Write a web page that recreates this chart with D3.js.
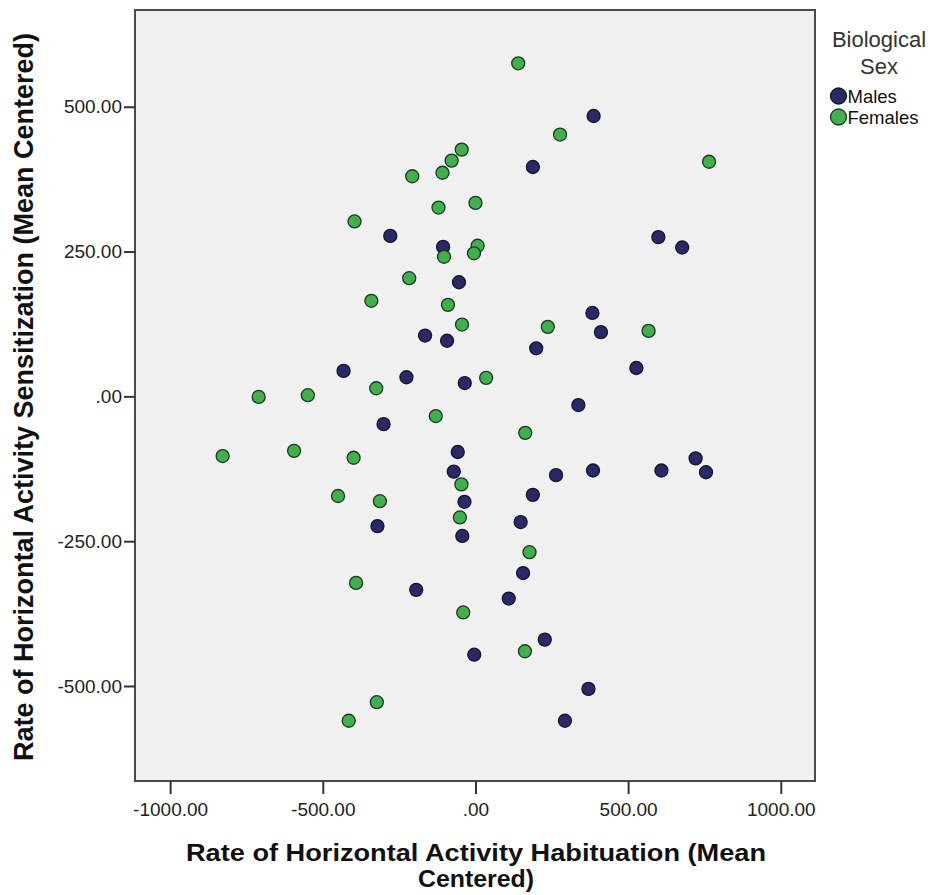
<!DOCTYPE html>
<html>
<head>
<meta charset="utf-8">
<script src="https://cdn.jsdelivr.net/npm/d3@7"></script>
<style>
  body { margin: 0; background: #fff; }
  text { font-family: Arial, "Liberation Sans", sans-serif; }
</style>
</head>
<body>
<div id="myscatterplot"></div>
<script>
// data
var groups = ["Males", "Females"];
var maleX = [387, 188, -279, -106, 599, 677, -54, -165, -93, 383, 411, 199, 527, -432, -226, -35, 337, -301,
    -58, -71, -36, 721, 755, 264, 385, 609, 188, 148, 156, 109, 227, 370, 293, -321, -43, -194, -4];
var maleY = [484, 396, 277, 258, 275, 257, 197, 105, 96, 144, 111, 83, 49, 44, 33, 23, -15, -48,
    -96, -130, -182, -107, -131, -136, -128, -128, -170, -217, -305, -349, -420, -505, -560, -224, -241, -334, -446];
var femaleX = [140, 277, 765, -45, -78, -108, -207, -121, 0, -396, -103, 7, -5, -217, -341, -90, -44, 237, 567,
    35, -325, -710, -549, -130, 163, -828, -594, -399, -46, -450, -313, -51, 177, -391, -40, 162, -323, -415];
var femaleY = [575, 452, 405, 426, 407, 386, 380, 326, 334, 302, 241, 260, 247, 204, 165, 158, 124, 120, 113,
    32, 14, -1, 2, -34, -63, -103, -94, -106, -152, -172, -181, -209, -269, -322, -373, -440, -528, -560];
var xTicks = [-1000, -500, 0, 500, 1000];
var yTicks = [-500, -250, 0, 250, 500];

var margin = { top: 10, right: 122, bottom: 114, left: 135 },
    width = 937 - margin.left - margin.right,
    height = 895 - margin.top - margin.bottom;

var x = d3.scaleLinear().domain([-1115, 1112]).range([0, width]);
var y = d3.scaleLinear().domain([-664, 667]).range([height, 0]);

var color = d3.scaleOrdinal().domain(groups).range(["#2a2966", "#43ae50"]);

// SPSS style labels: ".00", "500.00", "-1000.00"
function fmt(d) {
    return d === 0 ? ".00" : d.toFixed(2);
}

var svg = d3
    .select("#myscatterplot")
    .append("svg")
    .attr("width", 937)
    .attr("height", 895)
    .append("g")
    .attr("transform", "translate(" + margin.left + "," + margin.top + ")");

svg.append("rect")
    .attr("width", width)
    .attr("height", height)
    .attr("fill", "#f0f0f0");

var points = [];
maleX.forEach(function (v, i) { points.push({ g: "Males", x: v, y: maleY[i] }); });
femaleX.forEach(function (v, i) { points.push({ g: "Females", x: v, y: femaleY[i] }); });

svg.selectAll("circle.pt")
    .data(points)
    .enter()
    .append("circle")
    .attr("class", "pt")
    .attr("cx", function (d) { return x(d.x); })
    .attr("cy", function (d) { return y(d.y); })
    .attr("r", 6.5)
    .attr("fill", function (d) { return color(d.g); })
    .attr("stroke", function (d) { return d.g == "Males" ? "#15142e" : "#173a1c"; })
    .attr("stroke-width", 1.3);

// frame
svg.append("rect")
    .attr("width", width)
    .attr("height", height)
    .attr("fill", "none")
    .attr("stroke", "#4a4a4a")
    .attr("stroke-width", 2);

// axes
var xAxis = svg.append("g")
    .attr("transform", "translate(0," + height + ")")
    .call(d3.axisBottom(x).tickValues(xTicks).tickFormat(fmt).tickSizeInner(13).tickSizeOuter(0).tickPadding(9));
var yAxis = svg.append("g")
    .call(d3.axisLeft(y).tickValues(yTicks).tickFormat(fmt).tickSizeInner(11).tickSizeOuter(0).tickPadding(2));

[xAxis, yAxis].forEach(function (a) {
    a.select(".domain").remove();
    a.selectAll(".tick line").attr("stroke", "#333").attr("stroke-width", 2);
    a.selectAll(".tick text")
        .attr("fill", "#222")
        .style("font-size", "19px")
        .style("font-family", "Arial, 'Liberation Sans', sans-serif");
});

// axis titles (wide, tight two-line title like the SPSS output)
svg.append("text")
    .attr("text-anchor", "middle")
    .attr("x", width / 2 + 1)
    .attr("y", 861 - margin.top)
    .attr("textLength", 580)
    .attr("lengthAdjust", "spacingAndGlyphs")
    .style("font-size", "23px")
    .style("font-weight", "bold")
    .attr("fill", "#111")
    .text("Rate of Horizontal Activity Habituation (Mean");
svg.append("text")
    .attr("text-anchor", "middle")
    .attr("x", width / 2 + 1)
    .attr("y", 887 - margin.top)
    .attr("textLength", 116)
    .attr("lengthAdjust", "spacingAndGlyphs")
    .style("font-size", "23px")
    .style("font-weight", "bold")
    .attr("fill", "#111")
    .text("Centered)");

svg.append("text")
    .attr("text-anchor", "middle")
    .attr("transform", "rotate(-90)")
    .attr("x", -(397 - margin.top))
    .attr("y", 33 - margin.left)
    .style("font-size", "27px")
    .style("font-weight", "bold")
    .attr("fill", "#111")
    .text("Rate of Horizontal Activity Sensitization (Mean Centered)");

// legend
var legend = svg.append("g")
    .attr("transform", "translate(" + (width + 20) + ",0)");

legend.append("text")
    .attr("x", 44)
    .attr("y", 37)
    .attr("text-anchor", "middle")
    .attr("fill", "#333")
    .style("font-size", "22px")
    .text("Biological");
legend.append("text")
    .attr("x", 44)
    .attr("y", 64)
    .attr("text-anchor", "middle")
    .attr("fill", "#333")
    .style("font-size", "22px")
    .text("Sex");

var item = legend.selectAll("g.item")
    .data(groups)
    .enter()
    .append("g")
    .attr("class", "item")
    .attr("transform", function (d, i) { return "translate(0," + (86 + i * 21) + ")"; });

item.append("circle")
    .attr("cx", 3.5)
    .attr("cy", 0)
    .attr("r", 8)
    .attr("fill", color)
    .attr("stroke", function (d) { return d == "Males" ? "#15142e" : "#173a1c"; })
    .attr("stroke-width", 1.3);

item.append("text")
    .attr("x", 12.5)
    .attr("y", 0)
    .attr("dy", "0.36em")
    .attr("fill", "#111")
    .style("font-size", "18.5px")
    .text(function (d) { return d; });
</script>
</body>
</html>
